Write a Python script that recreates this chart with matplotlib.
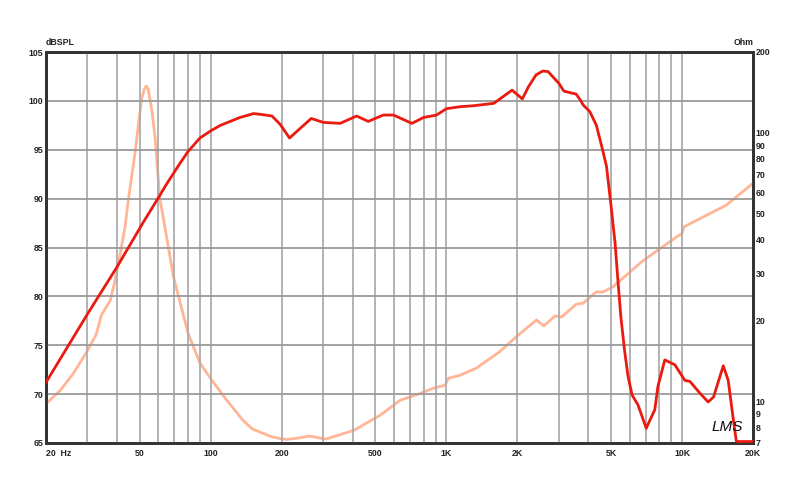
import numpy as np
import matplotlib
matplotlib.use("Agg")
import matplotlib.pyplot as plt
from matplotlib.ticker import FixedLocator, NullLocator

# SPL response (Hz, dB)
spl_freq = [20, 30, 40, 51.8, 60, 65, 70, 74, 80, 87, 90, 101, 110, 121, 133, 152,
            165, 182, 197, 216, 240, 267, 300, 354, 416, 466, 540, 596, 714, 800,
            908, 1000, 1140, 1300, 1590, 1900, 2100, 2230, 2400, 2560, 2700, 2820,
            3000, 3150, 3400, 3550, 3700, 3800, 4060, 4330, 4600, 4780, 5000, 5200,
            5340, 5500, 5700, 5900, 6140, 6500, 7050, 7200, 7660, 7900, 8450, 9320,
            10280, 10800, 11900, 12900, 13600, 14960, 15700, 16500, 17000, 20000]
spl_db = [71.2, 78.2, 83.0, 87.6, 90.1, 91.5, 92.7, 93.6, 94.8, 95.8, 96.2, 97.0,
          97.5, 97.9, 98.3, 98.7, 98.6, 98.45, 97.6, 96.2, 97.2, 98.2, 97.8, 97.7,
          98.45, 97.9, 98.55, 98.55, 97.7, 98.3, 98.55, 99.2, 99.4, 99.5, 99.75,
          101.1, 100.2, 101.45, 102.65, 103.05, 103.0, 102.5, 101.8, 101.0, 100.8,
          100.7, 100.1, 99.6, 98.9, 97.5, 95.0, 93.3, 89.2, 85.4, 81.7, 77.9, 74.5,
          71.8, 69.9, 68.9, 66.5, 67.0, 68.4, 70.8, 73.5, 73.0, 71.4, 71.3, 70.1,
          69.2, 69.7, 72.9, 71.4, 67.4, 65.15, 65.15]

# impedance (Hz, Ohm)
imp_freq = [20, 23, 26.1, 29.8, 32.6, 34.4, 37.5, 39.3, 41.1, 43.3, 44.7, 47.9,
            49.5, 51.0, 52.2, 53.2, 54.2, 55.0, 56.5, 58.0, 60.8, 62.8, 69.5, 80.2,
            90, 101, 117, 137, 150, 167, 180, 197, 210, 235, 262, 308, 405, 525,
            637, 773, 882, 988, 1020, 1140, 1340, 1680, 1980, 2410, 2590, 2890,
            3080, 3550, 3800, 4330, 4600, 5090, 6740, 7900, 9730, 10000, 10200,
            15400, 20000]
imp_ohm = [9.8, 11.0, 12.7, 15.3, 17.7, 21.0, 23.8, 28.3, 34.6, 44.7, 56.2, 86.3,
           110, 134.5, 145, 149.4, 146, 136, 118, 96.8, 57.0, 48.7, 29.1, 17.9, 13.9,
           12.0, 10.1, 8.5, 7.9, 7.6, 7.4, 7.27, 7.22, 7.3, 7.43, 7.24, 7.8, 8.9,
           10.1, 10.7, 11.2, 11.5, 12.2, 12.5, 13.3, 15.3, 17.4, 20.1, 19.1, 20.8,
           20.6, 23.0, 23.2, 25.6, 25.5, 26.7, 33.1, 36.6, 41.6, 42.2, 44.7, 53.8,
           64.9]

x_ticks = [20, 50, 100, 200, 500, 1000, 2000, 5000, 10000, 20000]
x_labels = ['20  Hz', '50', '100', '200', '500', '1K', '2K', '5K', '10K', '20K']
x_grid = [30, 40, 50, 60, 70, 80, 90, 100, 200, 300, 400, 500, 600, 700, 800,
          900, 1000, 2000, 3000, 4000, 5000, 6000, 7000, 8000, 9000, 10000]
db_ticks = [65, 70, 75, 80, 85, 90, 95, 100, 105]
ohm_ticks = [7, 8, 9, 10, 20, 30, 40, 50, 60, 70, 80, 90, 100, 200]

plt.rcParams['font.family'] = ['Liberation Sans', 'DejaVu Sans']
txt = '#222222'
fs = 6.3

fig = plt.figure(figsize=(8, 4.84), dpi=100)
ax = fig.add_axes([46 / 800, 41 / 484, 707 / 800, 391 / 484])
ax.set_xscale('log')
ax.set_xlim(20, 20000)
ax.set_ylim(65, 105)

for f in x_grid:
    ax.axvline(f, color='#acacac', lw=1.3, zorder=1)
for d in db_ticks[1:-1]:
    ax.axhline(d, color='#9a9a9a', lw=1.3, zorder=1)

ax2 = ax.twinx()
ax2.set_yscale('log')
ax2.set_ylim(7, 200)
ax2.plot(imp_freq, imp_ohm, color='#ffb596', lw=2, zorder=3,
         solid_joinstyle='round', solid_capstyle='round')

ax.set_zorder(ax2.get_zorder() + 1)
ax.patch.set_visible(False)
ax.plot(spl_freq, spl_db, color='#ea1a10', lw=2, zorder=4,
        solid_joinstyle='round', solid_capstyle='round')

ax.xaxis.set_major_locator(FixedLocator(x_ticks))
ax.xaxis.set_minor_locator(NullLocator())
ax.set_xticklabels(x_labels, fontweight='bold')
ax.xaxis.get_majorticklabels()[0].set_horizontalalignment('left')
ax.set_yticks(db_ticks)
ax.set_yticklabels([str(v) for v in db_ticks], fontweight='bold')
ax.tick_params(axis='both', length=0, labelsize=fs, colors=txt)
ax.tick_params(axis='x', pad=4)
ax.tick_params(axis='y', pad=2)

ax2.yaxis.set_major_locator(FixedLocator(ohm_ticks))
ax2.yaxis.set_minor_locator(NullLocator())
ax2.set_yticklabels([str(v) for v in ohm_ticks], fontweight='bold')
ax2.tick_params(axis='y', length=0, labelsize=fs, colors=txt, pad=2)

for a in (ax, ax2):
    for s in a.spines.values():
        s.set_color('#333333')
        s.set_linewidth(2)

ax.text(0, 1.012, 'dBSPL', transform=ax.transAxes, ha='left', va='bottom',
        fontsize=fs, color=txt, fontweight='bold')
ax.text(1.0, 1.012, 'Ohm', transform=ax.transAxes, ha='right', va='bottom',
        fontsize=fs, color=txt, fontweight='bold')
ax.text(0.963, 0.04, 'LMS', transform=ax.transAxes, ha='center', va='center',
        fontsize=11, style='italic', color='#111111', zorder=6)

fig.savefig('out.png', dpi=100, facecolor='white')
